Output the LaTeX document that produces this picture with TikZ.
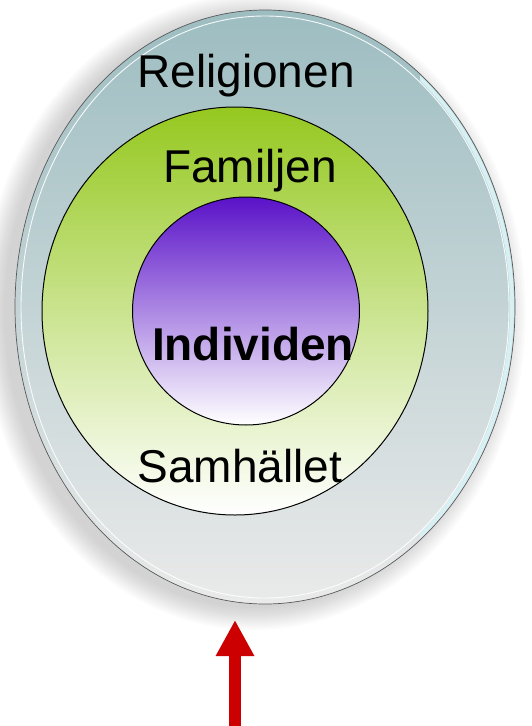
\documentclass[tikz,border=0pt]{standalone}
\usepackage{fontspec}
\setmainfont{Liberation Sans}
\usetikzlibrary{shapes.geometric,arrows.meta}
\definecolor{outertop}{HTML}{9DBDC1}
\definecolor{outermid}{HTML}{C6D3D5}
\definecolor{outerbot}{HTML}{EAEAEA}
\definecolor{greentop}{HTML}{95C81F}
\definecolor{greenmid}{HTML}{D3E7B4}
\definecolor{purptop}{HTML}{5A12C8}
\definecolor{purpmid}{HTML}{B9AEE3}
\definecolor{arrowred}{HTML}{CC0000}
\definecolor{rimlight}{HTML}{D6F0F3}
\tikzset{
  ring/.style={ellipse, inner sep=0pt, draw=black, line width=1pt},
  lbl/.style={anchor=base, inner sep=0pt, font=\fontsize{46}{55}\selectfont},
}
\begin{document}
\begin{tikzpicture}[x=1pt,y=-1pt]
\useasboundingbox (0,0) rectangle (531,726);
% soft shadow
\foreach \k in {1,...,12}{
  \fill[black, opacity=0.016] (254,312) ellipse [x radius={248+2*\k}, y radius={294+2*\k}];
}
% outer disc
\node[ellipse, inner sep=0pt, minimum width=500pt, minimum height=594pt,
      top color=outertop, middle color=outermid, bottom color=outerbot,
      draw=gray!70!black, line width=0.7pt] (outer) at (265,307) {};
\begin{scope}
  \clip (420,60) rectangle (531,560);
  \draw[rimlight, line width=4pt] (265,307) ellipse [x radius=247, y radius=294];
\end{scope}
\draw[white, line width=0.9pt, opacity=0.9] (265,307) ellipse [x radius=244, y radius=291];
% green ring
\node[ring, minimum width=386pt, minimum height=408pt,
      top color=greentop, middle color=greenmid, bottom color=white] (famring) at (235,311) {};
% purple circle
\node[ring, minimum width=227pt, minimum height=228pt,
      top color=purptop, middle color=purpmid, bottom color=white] (indring) at (246,311) {};
% labels
\node[lbl] (religion) at (246,87) {Religionen};
\node[lbl] (familj) at (250,182) {Familjen};
\node[lbl, font=\fontsize{46}{55}\selectfont\bfseries] (individ) at (253,360) {Individen};
\node[lbl] (samhalle) at (240,482) {Samhället};
% arrow
\coordinate (arrowtail) at (235,726);
\coordinate (arrowtip) at (235,620);
\draw[arrowred, line width=12pt, -{Triangle[length=36pt,width=36pt]}] (arrowtail) -- (arrowtip);
\end{tikzpicture}
\end{document}
